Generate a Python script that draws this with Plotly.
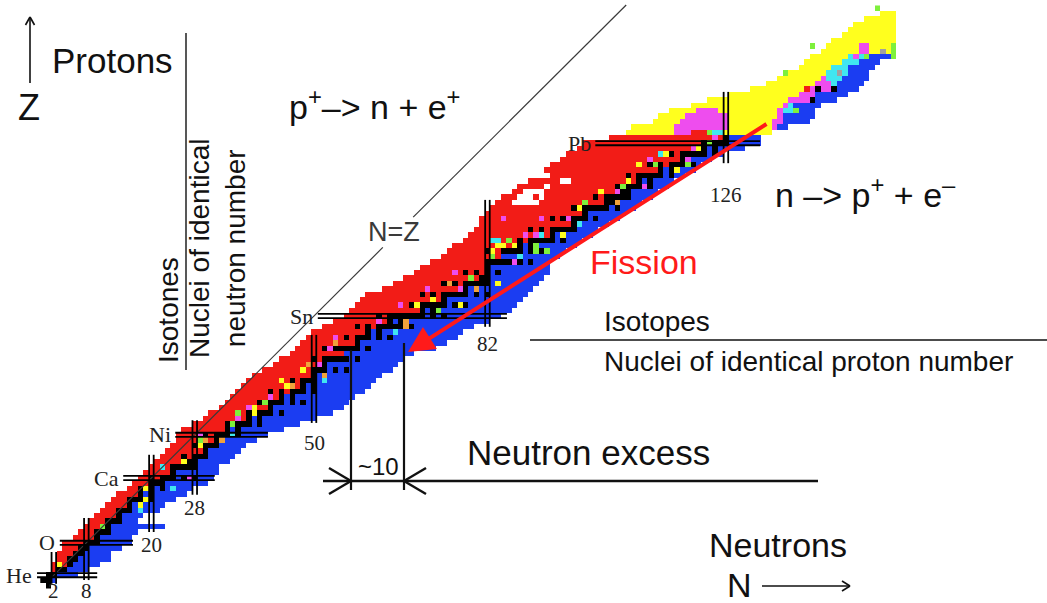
import plotly.graph_objects as go

W, H = 1047, 603

# ---------------------------------------------------------------------------
# Chart of nuclides, one row per proton number Z = 0 .. 107
# ---------------------------------------------------------------------------
N_FIRST = [
    1, 0, 1, 2, 2, 3, 3, 4, 4, 6,
    7, 8, 9, 10, 11, 12, 13, 14, 16, 17,
    18, 19, 20, 21, 22, 23, 24, 25, 25, 26,
    28, 30, 31, 33, 34, 35, 36, 37, 38, 39,
    41, 43, 44, 46, 47, 48, 49, 50, 52, 54,
    56, 57, 58, 59, 60, 63, 65, 67, 69, 70,
    72, 74, 75, 76, 78, 79, 80, 81, 81, 82,
    83, 84, 85, 87, 88, 90, 92, 93, 94, 96,
    97, 99, 100, 105, 108, 109, 113, 114, 116, 120,
    123, 127, 131, 134, 136, 138, 140, 141, 142, 144,
    145, 146, 148, 149, 150, 152, 155, 154,
]

N_LAST = [
    1, 2, 6, 8, 10, 12, 12, 14, 16, 16,
    17, 22, 17, 18, 21, 22, 24, 26, 27, 30,
    31, 32, 32, 34, 35, 36, 37, 39, 41, 44,
    47, 50, 53, 55, 56, 57, 59, 60, 61, 62,
    64, 65, 66, 68, 72, 74, 76, 77, 79, 82,
    84, 86, 87, 88, 89, 90, 91, 92, 93, 93,
    93, 95, 96, 98, 99, 101, 102, 104, 106, 107,
    109, 110, 112, 113, 115, 116, 118, 120, 121, 123,
    125, 129, 132, 132, 134, 137, 141, 142, 142, 143,
    146, 148, 150, 151, 152, 152, 153, 154, 156, 156,
    156, 157, 157, 157, 157, 157, 157, 154,
]

# first neutron number of the beta-minus side of each row
BETA_MINUS_FROM = [
    2, 2, 3, 5, 6, 7, 8, 9, 11, 11,
    13, 13, 15, 15, 17, 17, 19, 19, 21, 23,
    25, 25, 29, 29, 31, 31, 33, 33, 35, 35,
    39, 39, 43, 43, 45, 45, 49, 49, 51, 51,
    53, 53, 57, 56, 59, 59, 61, 61, 67, 65,
    71, 71, 75, 75, 79, 79, 83, 83, 83, 83,
    87, 85, 89, 89, 95, 95, 99, 99, 101, 101,
    105, 106, 109, 109, 111, 111, 115, 115, 119, 119,
    123, 123, 127, 127, 135, 136, 137, 137, 140, 139,
    143, 143, 147, 147, 148, 149, 149, 151, 153, 200,
    200, 200, 200, 200, 200, 200, 200, 200,
]

STABLE_N = [
    [1], [0, 1], [1, 2], [3, 4], [5], [5, 6], [6, 7], [7, 8], [8, 9, 10], [10],
    [10, 11, 12], [12], [12, 13, 14], [14], [14, 15, 16], [16], [16, 17, 18, 20],
    [18, 20], [18, 20, 22], [20, 21, 22],
    [20, 22, 23, 24, 26, 28], [24], [24, 25, 26, 27, 28], [27, 28], [26, 28, 29, 30],
    [30], [28, 30, 31, 32], [32], [30, 32, 33, 34, 36], [34, 36],
    [34, 36, 37, 38, 40], [38, 40], [38, 40, 41, 42, 44], [42], [40, 42, 43, 44, 46, 48],
    [44, 46], [42, 44, 46, 47, 48, 50], [48, 50], [46, 48, 49, 50], [50],
    [50, 51, 52, 54, 56], [52], [50, 52, 53, 54, 55, 56, 58], [], [52, 54, 55, 56, 57, 58, 60],
    [58], [56, 58, 59, 60, 62, 64], [60, 62], [58, 60, 62, 63, 64, 65, 66, 68], [64, 66],
    [62, 64, 65, 66, 67, 68, 69, 70, 72, 74], [70, 72], [68, 70, 71, 72, 73, 74, 76, 78],
    [74], [70, 72, 74, 75, 76, 77, 78, 80, 82], [78], [74, 76, 78, 79, 80, 81, 82],
    [81, 82], [78, 80, 82, 84], [82],
    [82, 83, 84, 85, 86, 88, 90], [], [82, 85, 86, 87, 88, 90, 92], [88, 90],
    [88, 90, 91, 92, 93, 94, 96], [94], [90, 92, 94, 95, 96, 97, 98], [98],
    [94, 96, 98, 99, 100, 102], [100],
    [98, 100, 101, 102, 103, 104, 106], [104, 105], [102, 104, 105, 106, 107, 108],
    [107, 108], [106, 108, 109, 110, 112], [110, 112], [108, 110, 111, 112, 113, 114, 116],
    [114, 116], [112, 114, 116, 117, 118, 120], [118],
    [116, 118, 119, 120, 121, 122, 124], [122, 124], [122, 124, 125, 126], [126],
    [], [], [], [], [], [],
    [142], [], [143, 146], [], [], [], [], [], [], [],
    [], [], [], [], [], [], [], [],
]

# (Z, first N, last N) runs of alpha emitters, EC/beta+ mixed and isomeric cells
YELLOW_RUNS = [
    (84, 108, 116), (84, 127, 134), (85, 109, 116), (85, 127, 134), (86, 113, 117),
    (86, 127, 134), (87, 114, 118), (87, 127, 135), (88, 116, 120), (88, 125, 135),
    (89, 120, 136), (90, 123, 137), (91, 127, 139), (92, 131, 140), (93, 134, 142),
    (94, 136, 143), (95, 138, 144), (96, 140, 145), (97, 141, 147), (98, 142, 148),
    (99, 144, 150), (99, 153, 156), (100, 145, 150), (100, 153, 156), (101, 146, 157),
    (102, 148, 157), (103, 149, 157), (104, 150, 157), (105, 152, 157), (106, 155, 157),
]
MAGENTA_RUNS = [
    (84, 117, 119), (85, 117, 126), (86, 118, 126), (87, 119, 126), (88, 121, 124),
    (85, 135, 135), (86, 135, 136), (87, 136, 136), (88, 136, 136), (89, 137, 137),
    (90, 138, 141), (91, 140, 142), (92, 142, 142), (92, 144, 145), (93, 143, 145),
    (94, 144, 144), (98, 150, 150), (99, 151, 152), (100, 151, 152),
]
CYAN_RUNS = [
    (88, 137, 138), (89, 138, 138), (93, 146, 146), (94, 145, 147), (95, 145, 148),
    (96, 146, 148), (97, 148, 150), (98, 149, 149), (98, 151, 151),
]

# single cells (N, Z, kind) with a mixed decay mode
ACCENT_CELLS = [
    (3, 4, "Y"), (11, 11, "G"), (18, 15, "Y"), (18, 14, "C"), (19, 18, "Y"), (19, 16, "Y"),
    (22, 22, "C"), (24, 18, "C"), (26, 23, "Y"), (27, 20, "M"), (27, 23, "G"), (29, 26, "Y"),
    (29, 27, "G"), (29, 28, "M"), (30, 27, "O"), (33, 27, "O"), (35, 28, "C"), (35, 30, "G"),
    (38, 33, "M"), (39, 32, "Y"), (36, 31, "M"), (36, 32, "G"), (41, 34, "G"), (39, 33, "Y"),
    (42, 35, "M"), (44, 38, "Y"), (46, 37, "O"), (45, 37, "Y"), (48, 40, "Y"), (49, 41, "O"),
    (51, 41, "M"), (52, 38, "C"), (53, 44, "M"), (54, 45, "O"), (54, 46, "M"), (52, 39, "O"),
    (30, 25, "M"), (66, 52, "M"), (69, 52, "Y"), (67, 49, "O"), (62, 49, "M"), (65, 47, "C"),
    (67, 48, "O"), (71, 55, "M"), (72, 53, "Y"), (75, 56, "O"), (73, 51, "G"), (77, 55, "M"),
    (77, 52, "Y"), (76, 58, "M"), (79, 57, "G"), (80, 55, "O"), (83, 62, "Y"), (83, 64, "C"),
    (84, 63, "Y"), (83, 61, "G"), (86, 64, "G"), (85, 63, "Y"), (88, 61, "C"), (91, 65, "M"),
    (92, 65, "C"), (91, 62, "G"), (92, 68, "M"), (80, 58, "M"), (84, 56, "Y"), (87, 60, "M"),
    (85, 68, "M"), (84, 64, "C"), (87, 63, "Y"), (89, 65, "M"), (91, 63, "G"), (93, 62, "G"),
    (96, 65, "Y"), (99, 70, "Y"), (97, 68, "M"), (99, 67, "C"), (100, 71, "G"), (103, 73, "Y"),
    (106, 73, "M"), (106, 71, "O"), (107, 74, "G"), (108, 75, "Y"), (111, 74, "M"),
    (110, 78, "Y"), (112, 79, "M"), (113, 78, "G"), (115, 80, "Y"), (114, 80, "C"),
    (117, 77, "Y"), (119, 78, "G"), (119, 79, "M"), (120, 81, "M"), (121, 81, "Y"),
    (123, 82, "G"), (124, 83, "M"),
    (123, 84, "G"), (124, 84, "C"), (125, 84, "C"), (126, 84, "Y"), (139, 88, "G"),
    (147, 95, "S"), (152, 98, "G"), (157, 98, "G"), (155, 99, "S"), (157, 99, "G"),
    (157, 100, "G"), (142, 100, "G"), (137, 95, "G"), (154, 107, "G"),
]

# unknown nuclides left blank inside the proton-rich band
HOLE_RUNS = [(71, 87, 91), (72, 88, 90), (72, 92, 92), (73, 89, 92), (74, 93, 93),
             (75, 96, 97), (76, 92, 93)]

# magic numbers
MAGIC_N = [2, 8, 20, 28, 50, 82, 126]
MAGIC_N_ZSPAN = [(0.4, 6.3), (1.1, 12.6), (10.0, 24.3), (16.9, 30.7),
                 (30.2, 46.5), (48.0, 71.5), (78.3, 91.5)]
MAGIC_N_LABEL_Z = [-1.0, -1.0, 7.6, 14.4, 26.5, 44.8, 72.4]

MAGIC_Z = [2, 8, 20, 28, 50, 82]
MAGIC_Z_NAMES = ["He", "O", "Ca", "Ni", "Sn", "Pb"]
MAGIC_Z_NSPAN = [(-1.1, 10.0), (3.1, 16.6), (14.8, 31.7), (24.4, 41.5),
                 (50.7, 85.6), (101.9, 132.3)]

# N = Z diagonal, broken around its label
NZ_SEGMENTS = [(1.5, 62.7), (68.3, 107.6)]

# ---------------------------------------------------------------------------
KIND_CODE = {"R": 1, "K": 2, "B": 3, "Y": 4, "M": 5, "G": 6, "C": 7, "O": 8, "S": 9}
KIND_COLORS = ["#F21C17", "#000000", "#1B3DF2", "#FFFF1E", "#EE4DEE",
               "#7EF03C", "#40E6F0", "#F0A23C", "#A0A0A0"]

n_rows = len(N_FIRST)
n_cols = 160
grid = [[None] * n_cols for _ in range(n_rows)]
for z in range(n_rows):
    for n in range(N_FIRST[z], N_LAST[z] + 1):
        grid[z][n] = KIND_CODE["R"] if n < BETA_MINUS_FROM[z] else KIND_CODE["B"]
for runs, kind in ((YELLOW_RUNS, "Y"), (MAGENTA_RUNS, "M"), (CYAN_RUNS, "C")):
    for z, a, b in runs:
        for n in range(a, b + 1):
            grid[z][n] = KIND_CODE[kind]
for n, z, kind in ACCENT_CELLS:
    grid[z][n] = KIND_CODE[kind]
for z, ns in enumerate(STABLE_N):
    for n in ns:
        grid[z][n] = KIND_CODE["K"]
for z, a, b in HOLE_RUNS:
    for n in range(a, b + 1):
        grid[z][n] = None

k = len(KIND_COLORS)
colorscale = []
for i, c in enumerate(KIND_COLORS):
    colorscale.append([i / k, c])
    colorscale.append([(i + 1) / k, c])

fig = go.Figure()
fig.add_trace(go.Heatmap(
    z=grid, x=list(range(n_cols)), y=list(range(n_rows)),
    colorscale=colorscale, zmin=0.5, zmax=k + 0.5,
    showscale=False, hoverinfo="skip",
))

# N = Z line
nz_x, nz_y = [], []
for a, b in NZ_SEGMENTS:
    nz_x += [a, b, None]
    nz_y += [a, b, None]
fig.add_trace(go.Scatter(x=nz_x, y=nz_y, mode="lines",
                         line=dict(color="#3a3a3a", width=1.2), hoverinfo="skip"))

# double lines for magic neutron and proton numbers
mx, my = [], []
for n, (z0, z1) in zip(MAGIC_N, MAGIC_N_ZSPAN):
    for d in (-0.42, 0.42):
        mx += [n + d, n + d, None]
        my += [z0, z1, None]
for z, (n0, n1) in zip(MAGIC_Z, MAGIC_Z_NSPAN):
    for d in (-0.38, 0.38):
        mx += [n0, n1, None]
        my += [z + d, z + d, None]
fig.add_trace(go.Scatter(x=mx, y=my, mode="lines",
                         line=dict(color="#000000", width=1.8), hoverinfo="skip"))

SERIF = "Liberation Serif, Times New Roman, serif"
SANS = "Liberation Sans, Arial, sans-serif"

ann = []
for n, zl in zip(MAGIC_N, MAGIC_N_LABEL_Z):
    ann.append(dict(x=n, y=zl, xref="x", yref="y", text=str(n), showarrow=False,
                    font=dict(family=SERIF, size=21, color="#222")))
for z, name, (n0, n1) in zip(MAGIC_Z, MAGIC_Z_NAMES, MAGIC_Z_NSPAN):
    ann.append(dict(x=n0 - 0.5, y=z, xref="x", yref="y", text=name, showarrow=False,
                    xanchor="right", font=dict(family=SERIF, size=22, color="#222")))
ann.append(dict(x=64.8, y=65.6, xref="x", yref="y", text="N=Z", showarrow=False,
                font=dict(family=SANS, size=27, color="#3a3a3a")))


def px(x):
    return x / W


def py(y):
    return 1 - y / H


def text(x, y, s, size, color="#111", angle=0, anchor="center", family=SANS):
    ann.append(dict(x=px(x), y=py(y), xref="paper", yref="paper", text=s,
                    showarrow=False, xanchor=anchor, yanchor="middle", textangle=angle,
                    font=dict(family=family, size=size, color=color)))


text(29, 108, "Z", 36)
text(112, 61, "Protons", 35)
text(168, 310, "Isotones", 28, angle=-90)
text(217, 249, "Nuclei of identical<br>neutron number", 28, angle=-90)
text(375, 104, "p<sup>+</sup>–> n + e<sup>+</sup>", 34)
text(865, 192, "n –> p<sup>+</sup> + e<sup>–</sup>", 34)
text(644, 262, "Fission", 34, color="#FF1A1A")
text(602, 321, "Isotopes", 28, anchor="left")
text(602, 361, "Nuclei of identical proton number", 28, anchor="left")
text(588, 452, "Neutron excess", 35)
text(378, 466, "~10", 24)
text(778, 545, "Neutrons", 34)
text(739, 585, "N", 34)

# fission arrow
ann.append(dict(x=px(408), y=py(352), xref="paper", yref="paper", text="",
                showarrow=True, ax=360, ay=-229, arrowhead=2, arrowsize=1.3,
                arrowwidth=4, arrowcolor="#FF1A1A", standoff=0))

shapes = []


def seg(x0, y0, x1, y1, w=1.5, color="#111"):
    shapes.append(dict(type="line", xref="paper", yref="paper",
                       x0=px(x0), y0=py(y0), x1=px(x1), y1=py(y1),
                       line=dict(color=color, width=w)))


# proton axis arrow
seg(30, 83, 30, 17, 1.6)
seg(25.5, 25, 30, 17, 1.6)
seg(34.5, 25, 30, 17, 1.6)
# neutron axis arrow
seg(762, 586, 850, 586, 1.6)
seg(842, 581, 850, 586, 1.6)
seg(842, 591, 850, 586, 1.6)
# isotone / isotope dividers
seg(186, 33, 186, 370, 1.4)
seg(530, 340, 1047, 340, 1.4)
# neutron excess dimension
seg(323, 481, 818, 481, 2.6)
seg(351, 350, 351, 490, 2.2)
seg(404, 343, 404, 490, 2.2)
seg(329, 468, 351, 481, 2.4)
seg(329, 494, 351, 481, 2.4)
seg(426, 468, 404, 481, 2.4)
seg(426, 494, 404, 481, 2.4)

x_lo = (0 - 43) / 5.42
x_hi = (W - 43) / 5.42
y_lo = (586 - H) / 5.4
y_hi = 586 / 5.4

fig.update_layout(
    width=W, height=H, margin=dict(l=0, r=0, t=0, b=0),
    paper_bgcolor="white", plot_bgcolor="white", showlegend=False,
    xaxis=dict(range=[x_lo, x_hi], visible=False, showgrid=False, zeroline=False),
    yaxis=dict(range=[y_lo, y_hi], visible=False, showgrid=False, zeroline=False),
    annotations=ann, shapes=shapes,
)

fig.write_html("out.html")
